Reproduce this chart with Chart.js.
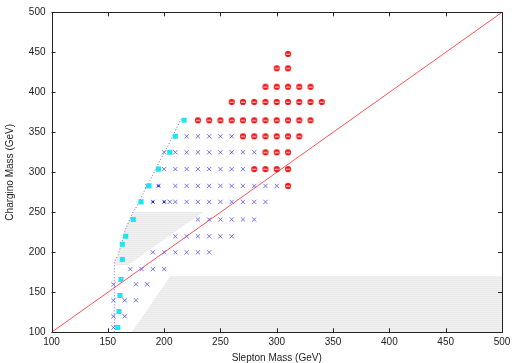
<!DOCTYPE html>
<html>
<head>
<meta charset="utf-8">
<script src="https://cdn.jsdelivr.net/npm/chart.js@4/dist/chart.umd.min.js"></script>
<style>
html,body{margin:0;padding:0;background:#fff;}
#c{display:block;}
</style>
</head>
<body>
<canvas id="c" width="519" height="363"></canvas>
<script>
// ---- data (GeV) ----
const xTicks = [100,150,200,250,300,350,400,450,500];
const yTicks = [100,150,200,250,300,350,400,450,500];

// red: excluded points
const excludedPoints = [
  [310,448],
  [300,430],[310,430],
  [290,407],[300,407],[310,407],[320,407],[330,407],
  [260,388],[270,388],[280,388],[290,388],[300,388],[310,388],[320,388],[330,388],[340,388],
  [230,365],[240,365],[250,365],[260,365],[270,365],[280,365],[290,365],[300,365],[310,365],[320,365],[330,365],
  [270,345],[280,345],[290,345],[300,345],[310,345],[320,345],
  [290,325],[300,325],[310,325],
  [280,304],[290,304],[300,304],[310,304],
  [310,283]
];

// blue crosses: allowed points
const allowedPoints = [
  [220,345],[230,345],[240,345],[250,345],[260,345],
  [200,325],[210,325],[220,325],[230,325],[240,325],[250,325],[260,325],[270,325],[280,325],
  [200,304],[210,304],[220,304],[230,304],[240,304],[250,304],[260,304],[270,304],
  [185,283],[195,283],[210,283],[220,283],[230,283],[240,283],[250,283],[260,283],[270,283],[280,283],[290,283],[300,283],
  [190,263],[200,263],[205,263],[210,263],[220,263],[230,263],[240,263],[250,263],[260,263],[270,263],[280,263],[290,263],
  [230,241],[240,241],[250,241],[260,241],[270,241],[280,241],
  [210,220],[220,220],[230,220],[240,220],[250,220],[260,220],
  [190,200],[200,200],[210,200],[220,200],[230,200],[240,200],
  [170,179],[180,179],[190,179],[200,179],
  [155,160],[175,160],[185,160],
  [155,140],[165,140],[175,140],
  [155,120],[165,120],
  [155,106]
];

// dark overlapping markers
const overlapPoints = [[195,283],[190,263],[200,263]];

// cyan squares: boundary points
const boundaryPoints = [
  [217.7,365],[209.9,345],[205,325],[194.9,304],[186.6,283],[179.5,263],
  [172.6,241],[165.9,220],[162.9,210],[162.9,191],[161.7,166],[160.8,146],
  [159.9,126],[158.8,106]
];

// dotted blue boundary curve
const boundaryCurve = [
  [155.8,100],[155.8,188],[159,196],[166,230],[172.6,251],[176,258],
  [183,278],[187.5,290],[196.4,315],[205.2,338],[215,366.6]
];

// red diagonal (chargino = slepton)
const diagonal = [[100,100],[500,500]];

// grey shaded regions
const greyRegionUpper = [[156,184],[168,184],[234.8,250.8],[172.6,250.8],[166,230],[159,196],[156,188],[156,184]];
const greyRegionLower = [[171.3,100],[205.2,170],[500,170],[500,100],[171.3,100]];

// ---- helpers ----
const toXY = arr => arr.map(p => ({x:p[0], y:p[1]}));

function makeRedMarker(){
  const c = document.createElement('canvas');
  c.width = 8; c.height = 8;
  const g = c.getContext('2d');
  g.fillStyle = '#ee1010';
  g.beginPath(); g.arc(4,4,3.1,0,Math.PI*2); g.fill();
  g.fillStyle = 'rgba(255,255,255,0.9)';
  g.fillRect(1.8,3.7,4.4,1);
  return c;
}
function makeGreyPattern(ctx){
  const c = document.createElement('canvas');
  c.width = 4; c.height = 2;
  const g = c.getContext('2d');
  g.fillStyle = '#f0f0f0'; g.fillRect(0,0,4,2);
  g.fillStyle = '#eaeaea'; g.fillRect(0,0,4,1);
  return ctx.createPattern(c,'repeat');
}

const canvas = document.getElementById('c');
const ctx = canvas.getContext('2d');
const greyFill = makeGreyPattern(ctx);
const FONT = 'Liberation Sans, Arial, Helvetica, sans-serif';
Chart.defaults.font.family = FONT;

const frameTicks = {
  id:'frameTicks',
  afterDatasetsDraw(chart){
    const {ctx, chartArea:a, scales:{x,y}} = chart;
    ctx.save();
    ctx.strokeStyle = '#222';
    ctx.lineWidth = 1;
    ctx.beginPath();
    xTicks.forEach(v => {
      const px = Math.round(x.getPixelForValue(v)) + 0.5;
      ctx.moveTo(px, a.bottom); ctx.lineTo(px, a.bottom - 4);
      ctx.moveTo(px, a.top); ctx.lineTo(px, a.top + 4);
    });
    yTicks.forEach(v => {
      const py = Math.round(y.getPixelForValue(v)) + 0.5;
      ctx.moveTo(a.left, py); ctx.lineTo(a.left + 4, py);
      ctx.moveTo(a.right, py); ctx.lineTo(a.right - 4, py);
    });
    ctx.stroke();
    ctx.strokeRect(Math.round(a.left)+0.5, Math.round(a.top)+0.5, Math.round(a.right)-Math.round(a.left), Math.round(a.bottom)-Math.round(a.top));
    ctx.restore();
  }
};

new Chart(canvas, {
  type:'scatter',
  data:{
    datasets:[
      {label:'excluded', data:toXY(excludedPoints), pointStyle:makeRedMarker(), pointRadius:3.5, order:1},
      {label:'overlap', data:toXY(overlapPoints), pointStyle:'rect', pointRadius:1.6, backgroundColor:'#2a2ad0', borderColor:'#2a2ad0', borderWidth:0, order:1},
      {label:'allowed', data:toXY(allowedPoints), pointStyle:'crossRot', pointRadius:3, borderColor:'rgba(70,70,255,0.75)', borderWidth:1, order:2},
      {label:'boundary', data:toXY(boundaryPoints), pointStyle:'rect', pointRadius:3.6, backgroundColor:'#19e6ee', borderColor:'#19e6ee', borderWidth:0, order:0},
      {label:'curve', data:toXY(boundaryCurve), showLine:true, pointRadius:0, borderColor:'rgba(80,80,255,0.85)', borderWidth:1, borderDash:[1,2], order:3},
      {label:'diagonal', data:toXY(diagonal), showLine:true, pointRadius:0, borderColor:'rgba(255,40,40,0.8)', borderWidth:1, order:4},
      {label:'greyA', data:toXY(greyRegionUpper), showLine:true, pointRadius:0, borderWidth:0, borderColor:'rgba(0,0,0,0)', backgroundColor:greyFill, fill:'shape', order:10},
      {label:'greyB', data:toXY(greyRegionLower), showLine:true, pointRadius:0, borderWidth:0, borderColor:'rgba(0,0,0,0)', backgroundColor:greyFill, fill:'shape', order:10}
    ]
  },
  options:{
    responsive:false,
    animation:false,
    devicePixelRatio:1,
    layout:{padding:{top:12.3, right:17, left:0, bottom:0}},
    plugins:{legend:{display:false}, tooltip:{enabled:false}},
    scales:{
      x:{
        type:'linear', min:100, max:500,
        afterBuildTicks: s => { s.ticks = xTicks.map(v => ({value:v})); },
        ticks:{font:{size:10, family:FONT}, color:'#222', padding:4, maxRotation:0},
        grid:{display:false, drawTicks:false},
        border:{display:false},
        title:{display:true, text:'Slepton Mass (GeV)', color:'#222', font:{size:10, family:FONT, lineHeight:1}, padding:{top:0,bottom:0}},
        afterFit: s => { s.height = 30.7; }
      },
      y:{
        type:'linear', min:100, max:500,
        afterBuildTicks: s => { s.ticks = yTicks.map(v => ({value:v})); },
        ticks:{font:{size:10, family:FONT}, color:'#222', padding:6},
        grid:{display:false, drawTicks:false},
        border:{display:false},
        title:{display:true, text:'Chargino Mass (GeV)', color:'#222', font:{size:10, family:FONT, lineHeight:1}, padding:{top:5,bottom:0}},
        afterFit: s => { s.width = 51.5; }
      }
    }
  },
  plugins:[frameTicks]
});
</script>
</body>
</html>
